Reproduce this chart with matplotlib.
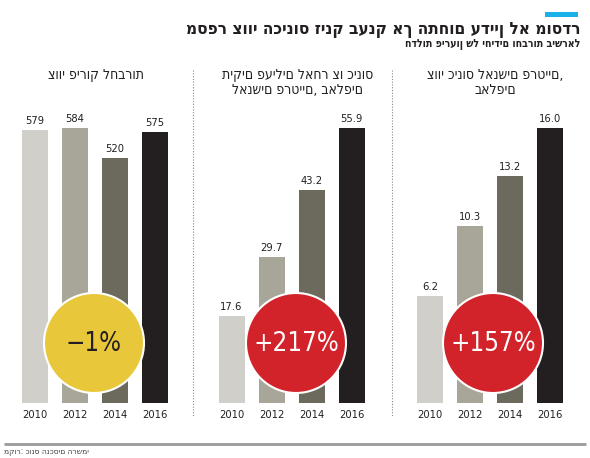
import matplotlib.pyplot as plt
from matplotlib.patches import Circle, Rectangle

# נתונים
years = ['2010', '2012', '2014', '2016']
liquidation = [579, 584, 520, 575]
active_cases = [17.6, 29.7, 43.2, 55.9]
insolvency_orders = [6.2, 10.3, 13.2, 16.0]

titles = ['צווי פירוק לחברות',
          'תיקים פעילים לאחר צו כינוס\nלאנשים פרטיים, באלפים',
          'צווי כינוס לאנשים פרטיים,\nבאלפים']
changes = ['−1%', '+217%', '+157%']
label_fmt = ['{:.0f}', '{:.1f}', '{:.1f}']

main_title = 'מספר צווי הכינוס זינק בענק אך התחום עדיין לא מוסדר'
sub_title = 'חדלות פירעון של יחידים וחברות בישראל'
source = 'מקור: כונס הנכסים הרשמי'

bar_colors = ['#d0cfca', '#a8a698', '#6b6a5c', '#231f20']
circle_colors = ['#e8c83a', '#d2232a', '#d2232a']
circle_text_colors = ['#231f20', 'white', 'white']

FONT = ['DejaVu Sans']

W, H = 590, 458
fig = plt.figure(figsize=(W / 100, H / 100), dpi=100)


def px_axes(x0, y_top, w, h):
    return fig.add_axes([x0 / W, 1 - (y_top + h) / H, w / W, h / H])


datasets = [liquidation, active_cases, insolvency_orders]
panel_x0 = [14.5, 211.5, 410]
centers = [94, 296, 493]

for i, data in enumerate(datasets):
    ax = px_axes(panel_x0[i], 128, 160, 275)
    bars = ax.bar(range(4), data, width=0.65, color=bar_colors)
    ax.set_xlim(-0.5, 3.5)
    ax.set_ylim(0, max(data))
    ax.set_xticks(range(4))
    ax.set_xticklabels(years, fontsize=8, color='#231f20', family=FONT,
                       stretch='condensed')
    ax.tick_params(axis='x', length=0, pad=5)
    ax.set_yticks([])
    for s in ax.spines.values():
        s.set_visible(False)
    for b, v in zip(bars, data):
        ax.annotate(label_fmt[i].format(v), (b.get_x() + b.get_width() / 2, v),
                    xytext=(0, 3), textcoords='offset points', ha='center',
                    va='bottom', fontsize=8, color='#231f20', family=FONT,
                    stretch='condensed', annotation_clip=False)

# שכבת עיטורים בקואורדינטות פיקסלים
ov = fig.add_axes([0, 0, 1, 1], zorder=5)
ov.set_xlim(0, W)
ov.set_ylim(H, 0)
ov.axis('off')
ov.patch.set_alpha(0)

for i in range(3):
    ov.add_patch(Circle((centers[i], 343), 50, facecolor=circle_colors[i],
                        edgecolor='white', lw=1.5))
    ov.text(centers[i], 344, changes[i], ha='center', va='center',
            fontsize=18.5, color=circle_text_colors[i], family=FONT,
            stretch='condensed')
    ov.text(centers[i] + 2, 68, titles[i], ha='center', va='top',
            fontsize=10, color='#231f20', family=FONT, stretch='condensed',
            linespacing=1.1)

for x in [193, 392]:
    ov.plot([x, x], [70, 416], color='#888888', lw=0.8, ls=(0, (1, 1.5)))

ov.add_patch(Rectangle((545, 12), 33, 5, color='#1ab0e8', lw=0))
ov.text(580, 29, main_title, ha='right', va='center', fontsize=12.3,
        fontweight='bold', color='#231f20', family=FONT, stretch='condensed')
ov.text(580, 45, sub_title, ha='right', va='center', fontsize=7.6,
        fontweight='bold', color='#231f20', family=FONT, stretch='condensed')

ov.plot([4, 586], [444, 444], color='#9a9a9a', lw=2, solid_capstyle='butt')
ov.text(4, 452, source, ha='left', va='center', fontsize=6,
        color='#444444', family=FONT, stretch='condensed')

fig.savefig('out.png', dpi=100)
